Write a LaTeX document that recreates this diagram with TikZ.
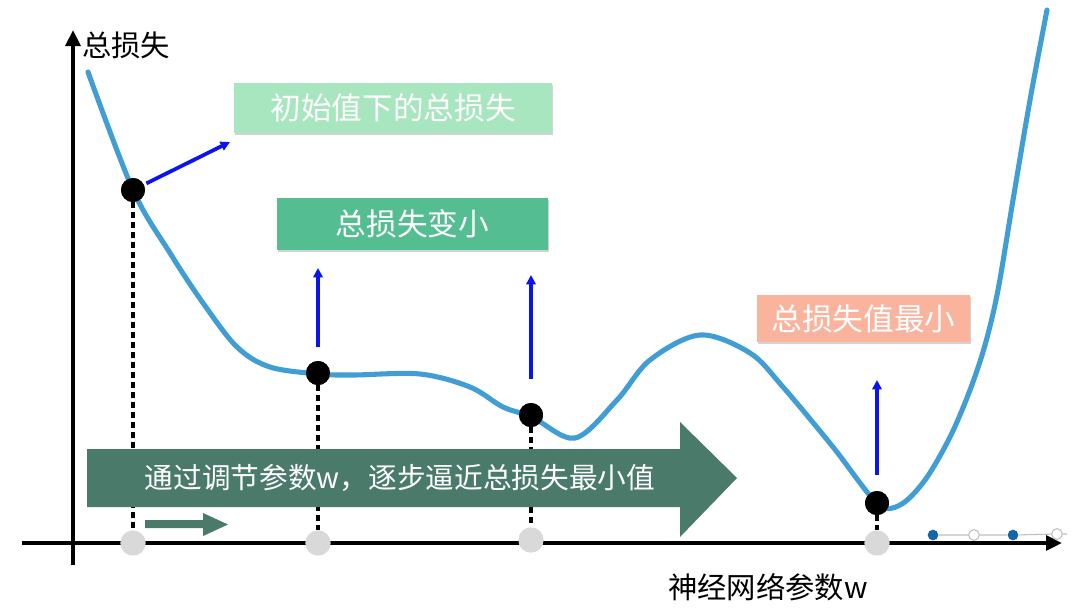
\documentclass[tikz,border=0pt]{standalone}
\usepackage{fontspec}
\setmainfont{Noto Sans CJK SC}
\usetikzlibrary{arrows.meta,shadows}
\definecolor{curveblue}{RGB}{64,158,212}
\definecolor{boxA}{RGB}{168,230,192}
\definecolor{boxB}{RGB}{84,190,146}
\definecolor{boxC}{RGB}{250,180,158}
\definecolor{arrowgreen}{RGB}{74,122,106}
\definecolor{ptblue}{RGB}{20,100,170}
\definecolor{dotgray}{RGB}{217,217,217}
\definecolor{arrblue}{RGB}{10,20,240}
\tikzset{
  axisline/.style={line width=3.5pt,-{Triangle[length=12pt,width=11pt]}},
  blackdot/.style={circle,fill=black,inner sep=0pt,minimum size=18pt},
  graydot/.style={circle,fill=dotgray,inner sep=0pt,minimum size=19pt},
  dashline/.style={line width=2.8pt,dash pattern=on 4.5pt off 3pt},
  bluearrow/.style={line width=2.8pt,draw=arrblue,-{Triangle[length=7pt,width=7pt]}},
  lossbox/.style={text=white,font=\fontsize{23}{27}\selectfont,inner sep=0pt,
     drop shadow={shadow xshift=0.8pt,shadow yshift=-1.5pt,opacity=0.35}},
  axislabel/.style={font=\fontsize{22}{26}\selectfont,text=black,inner sep=0pt},
  seriesdot/.style={circle,inner sep=0pt,minimum size=8pt,line width=0.8pt},
}
\begin{document}
\begin{tikzpicture}[x=0.75pt,y=-0.75pt]
\useasboundingbox (0,0) rectangle (1080,615);
% axes
\coordinate (yb) at (73,565);
\coordinate (yt) at (73,30);
\coordinate (xl) at (22,543);
\coordinate (xr) at (1062,543);
\draw[axisline] (yb) -- (yt);
\draw[axisline] (xl) -- (xr);
\node[axislabel,anchor=west] (ylab) at (82,45) {总损失};
\node[axislabel] (xlab) at (768,587) {神经网络参数w};
% series markers at right
\node[seriesdot,fill=ptblue] (s1) at (933,535) {};
\node[seriesdot,fill=white,draw=black!25] (s2) at (974,535) {};
\node[seriesdot,fill=ptblue] (s3) at (1013,535) {};
\node[seriesdot,fill=white,draw=black!25] (s4) at (1057,534) {};
\coordinate (send) at (1067,534);
\draw[black!25,line width=0.8pt] (s1) -- (s2) -- (s3) -- (s4) -- (send);
% points
\node[blackdot] (p1) at (133,190) {};
\node[blackdot] (p2) at (318,373) {};
\node[blackdot] (p3) at (531,415) {};
\node[blackdot] (p4) at (877,503) {};
\node[graydot] (g1) at (133,543) {};
\node[graydot] (g2) at (318,543) {};
\node[graydot] (g3) at (531,540) {};
\node[graydot] (g4) at (877,543) {};
\draw[dashline] (p1) -- (g1);
\draw[dashline] (p2) -- (g2);
\draw[dashline] (p3) -- (g3);
\draw[dashline] (p4) -- (g4);
% big arrow
\fill[arrowgreen] (87,449) -- (680,449) -- (680,422) -- (737,478) -- (680,537) -- (680,507) -- (87,507) -- cycle;
\node[font=\fontsize{21.5}{25}\selectfont,text=white,inner sep=0pt] (bigtext) at (400,478) {通过调节参数w，逐步逼近总损失最小值};
% small arrow
\fill[arrowgreen] (145,520) -- (203,520) -- (203,513) -- (228,524.5) -- (203,536) -- (203,528) -- (145,528) -- cycle;
% curve
\draw[curveblue,line width=3.8pt,line cap=round] plot[smooth,tension=0.55] coordinates {
 (88,72) (133,190) (170,253) (203,303) (237,347) (270,367) (319,374) (353,375)
 (420,374) (470,387) (503,407) (532,417) (575,438) (617,400) (650,360) (700,335)
 (750,353) (783,387) (833,447) (877,503) (900,505) (925,480) (950,437) (970,390)
 (985,345) (998,290) (1013,200) (1030,100) (1047,10)};
% redraw dots on top of curve
\node[blackdot] at (p1) {};
\node[blackdot] at (p2) {};
\node[blackdot] at (p3) {};
\node[blackdot] at (p4) {};
% boxes
\node[lossbox,fill=boxA,minimum width=238.5pt,minimum height=37.5pt] (b1) at (393,108) {初始值下的总损失};
\node[lossbox,fill=boxB,minimum width=203pt,minimum height=39pt] (b2) at (412.5,224) {总损失变小};
\node[lossbox,fill=boxC,minimum width=160pt,minimum height=35pt] (b3) at (863.5,318.5) {总损失值最小};
% blue arrows
\coordinate (e1) at (230,142);
\coordinate (e2) at (318,268);
\coordinate (e3) at (531,275);
\coordinate (e4) at (877,380);
\draw[bluearrow,shorten <=2pt] (p1) -- (e1);
\draw[bluearrow,shorten <=10pt] (p2) -- (e2);
\draw[bluearrow,shorten <=18pt] (p3) -- (e3);
\draw[bluearrow,shorten <=12pt] (p4) -- (e4);
\end{tikzpicture}
\end{document}
